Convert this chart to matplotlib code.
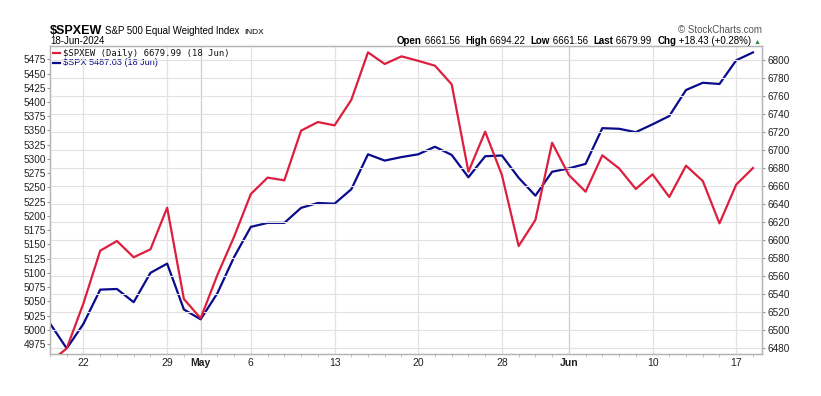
import matplotlib
matplotlib.use("Agg")
import matplotlib.pyplot as plt
import numpy as np

plt.rcParams['font.family'] = ['Liberation Sans', 'DejaVu Sans']

# trading days shown (Apr 18 is partly clipped at the left edge)
dates = ["2024-04-18", "2024-04-19", "2024-04-22", "2024-04-23", "2024-04-24", "2024-04-25",
         "2024-04-26", "2024-04-29", "2024-04-30", "2024-05-01", "2024-05-02", "2024-05-03",
         "2024-05-06", "2024-05-07", "2024-05-08", "2024-05-09", "2024-05-10", "2024-05-13",
         "2024-05-14", "2024-05-15", "2024-05-16", "2024-05-17", "2024-05-20", "2024-05-21",
         "2024-05-22", "2024-05-23", "2024-05-24", "2024-05-28", "2024-05-29", "2024-05-30",
         "2024-05-31", "2024-06-03", "2024-06-04", "2024-06-05", "2024-06-06", "2024-06-07",
         "2024-06-10", "2024-06-11", "2024-06-12", "2024-06-13", "2024-06-14", "2024-06-17",
         "2024-06-18"]

spxew = [6464, 6479.6, 6529.7, 6588.1, 6598.9, 6580.8, 6589.6, 6635.9, 6534.4, 6513.0,
         6561.1, 6603.7, 6651.1, 6669.3, 6666.3, 6721.5, 6731.1, 6727.4, 6755.6, 6808.5,
         6795.6, 6804.1, 6799.1, 6793.7, 6773.0, 6675.9, 6720.4, 6672.2, 6593.3, 6622.2,
         6708.1, 6672.2, 6653.7, 6694.1, 6679.6, 6656.7, 6673.0, 6647.8, 6682.6, 6665.6,
         6618.5, 6661.56, 6679.99]

spx = [5011.12, 4967.23, 5010.60, 5070.55, 5071.63, 5048.42, 5099.96, 5116.17, 5035.69,
       5018.39, 5064.20, 5127.79, 5180.74, 5187.70, 5187.67, 5214.08, 5222.68, 5221.42,
       5246.68, 5308.15, 5297.10, 5303.27, 5308.13, 5321.41, 5307.01, 5267.84, 5304.72,
       5306.04, 5266.95, 5235.48, 5277.51, 5283.40, 5291.34, 5354.03, 5352.96, 5346.99,
       5360.79, 5375.32, 5421.03, 5433.74, 5431.60, 5473.23, 5487.03]

label_dates = ["2024-04-22", "2024-04-29", "2024-05-01", "2024-05-06", "2024-05-13",
               "2024-05-20", "2024-05-28", "2024-06-03", "2024-06-10", "2024-06-17"]
label_text = ["22", "29", "May", "6", "13", "20", "28", "Jun", "10", "17"]
month_marks = ["May", "Jun"]

left_ticks = list(range(4975, 5476, 25))
right_ticks = list(range(6480, 6801, 20))

RED = "#dc1f3f"
BLUE = "#0a0a8c"
GRID = "#e2e2e2"
W, H = 821, 396

x = np.arange(len(dates))

fig = plt.figure(figsize=(8.21, 3.96), dpi=100)
ax = fig.add_axes([50 / W, 42 / H, 712 / W, 308 / H])
ax2 = ax.twinx()

# SPX on the left scale, SPXEW on the right scale
ax.plot(x, spx, color=BLUE, lw=1.6, zorder=3)
ax2.plot(x, spxew, color=RED, lw=1.6, zorder=3)

ax.set_xlim(0.46, 42.54)
ax.set_ylim(4957.5, 5498.3)
ax2.set_ylim(6473.3, 6815.6)

# gridlines follow the right scale
for v in right_ticks:
    ax2.axhline(v, color=GRID, lw=0.8, zorder=0)
pos = [dates.index(d) for d in label_dates]
for p, t in zip(pos, label_text):
    ax.axvline(p, color="#cfcfcf" if t in month_marks else GRID, lw=0.9, zorder=0)

ax.set_xticks(pos)
ax.set_xticklabels(label_text)
for lab in ax.get_xticklabels():
    if lab.get_text() in month_marks:
        lab.set_fontweight("bold")
ax.set_xticks(x, minor=True)
ax.tick_params(axis="x", which="major", length=0, labelsize=7.5, pad=3, colors="#222222")
ax.tick_params(axis="x", which="minor", length=2, color="#bbbbbb")

ax.set_yticks(left_ticks)
ax.tick_params(axis="y", length=2, labelsize=7.2, color="#999999", labelcolor="#222222", pad=1)
ax2.set_yticks(right_ticks)
ax2.tick_params(axis="y", length=2, labelsize=7.2, color="#999999", labelcolor="#222222", pad=2)

for a in (ax, ax2):
    for s in a.spines.values():
        s.set_color("#b5b5b5")
        s.set_linewidth(0.9)

fig.canvas.draw()
renderer = fig.canvas.get_renderer()


def put(xp, yp, txt, **kw):
    t = fig.text(xp / W, 1 - yp / H, txt, **kw)
    return xp + t.get_window_extent(renderer).width


# header texts
xp = put(50, 34, "$SPXEW", fontsize=9, fontweight="bold")
xp = put(xp + 3, 34, "S&P 500 Equal Weighted Index", fontsize=6.9)
put(xp + 5, 34, "INDX", fontsize=6)
put(50, 44.5, "18-Jun-2024", fontsize=7)
fig.text(762 / W, 1 - 33 / H, "\u00a9 StockCharts.com", fontsize=7, color="#555555", ha="right")

parts = [("Open", True), (" 6661.56  ", False), ("High", True), (" 6694.22  ", False),
         ("Low", True), (" 6661.56  ", False), ("Last", True), (" 6679.99  ", False),
         ("Chg", True), (" +18.43 (+0.28%) ", False)]
fs = 7
total = 0
for txt, bold in parts:
    t = fig.text(0, 0, txt, fontsize=fs, fontweight="bold" if bold else "normal")
    total += t.get_window_extent(renderer).width
    t.remove()
xp = 754 - total
for txt, bold in parts:
    xp = put(xp, 44.5, txt, fontsize=fs, fontweight="bold" if bold else "normal")
fig.text(xp / W, 1 - 44 / H, "\u25b2", fontsize=5, color="#2e8b3e")

# legend block
ax.plot([0.0042, 0.014], [0.976, 0.976], transform=ax.transAxes, color=RED, lw=1.6, clip_on=False)
ax.text(0.018, 0.976, "$SPXEW (Daily) 6679.99 (18 Jun)", transform=ax.transAxes,
        fontsize=6.4, family="DejaVu Sans Mono", va="center", color="#111111")
ax.plot([0.0042, 0.014], [0.946, 0.946], transform=ax.transAxes, color=BLUE, lw=1.6, clip_on=False)
ax.text(0.018, 0.946, "$SPX 5487.03 (18 Jun)", transform=ax.transAxes,
        fontsize=6.6, va="center", color=BLUE)

fig.savefig("out.png", dpi=100)
